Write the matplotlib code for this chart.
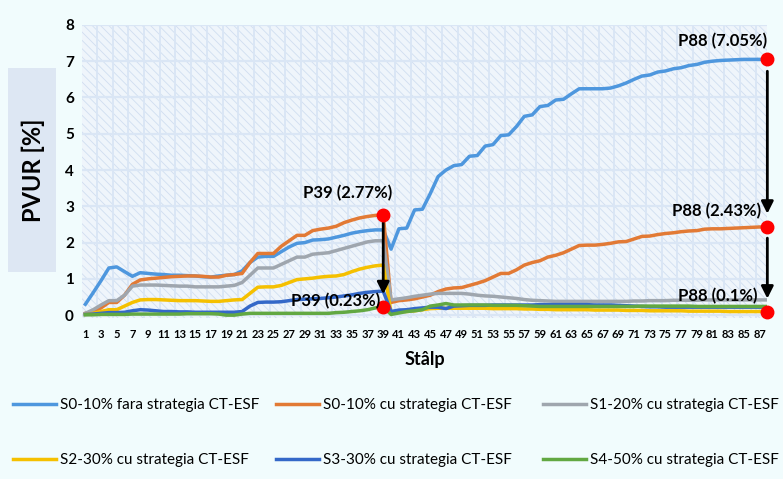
import matplotlib.pyplot as plt
from matplotlib.patches import Rectangle
import numpy as np

plt.rcParams['font.family'] = ['Lato', 'DejaVu Sans']
plt.rcParams['hatch.linewidth'] = 0.6

# Stâlp numbers 1..88
stalpi = np.arange(1, 89)

s0_fara = [0.30, 0.62, 0.95, 1.30, 1.33, 1.20, 1.07, 1.17, 1.15, 1.13,
           1.12, 1.10, 1.10, 1.09, 1.08, 1.06, 1.05, 1.08, 1.10, 1.12,
           1.22, 1.45, 1.60, 1.62, 1.62, 1.75, 1.88, 1.98, 2.00, 2.07,
           2.08, 2.10, 2.15, 2.20, 2.26, 2.30, 2.33, 2.35, 2.35, 1.82,
           2.38, 2.40, 2.90, 2.92, 3.35, 3.82, 4.00, 4.12, 4.15, 4.38,
           4.40, 4.66, 4.70, 4.95, 4.97, 5.20, 5.48, 5.52, 5.75, 5.78,
           5.93, 5.95, 6.10, 6.24, 6.24, 6.24, 6.24, 6.26, 6.32, 6.40,
           6.50, 6.59, 6.62, 6.70, 6.73, 6.79, 6.82, 6.88, 6.91, 6.97,
           7.00, 7.02, 7.03, 7.04, 7.05, 7.05, 7.05, 7.05]

s0_cu = [0.05, 0.10, 0.20, 0.35, 0.35, 0.55, 0.85, 0.97, 1.00, 1.02,
         1.04, 1.06, 1.07, 1.08, 1.08, 1.07, 1.05, 1.05, 1.10, 1.12,
         1.15, 1.45, 1.70, 1.70, 1.70, 1.90, 2.05, 2.20, 2.20, 2.33,
         2.37, 2.40, 2.45, 2.55, 2.62, 2.68, 2.72, 2.75, 2.77, 0.35,
         0.40, 0.42, 0.45, 0.50, 0.55, 0.65, 0.72, 0.75, 0.76, 0.82,
         0.88, 0.95, 1.05, 1.15, 1.15, 1.25, 1.38, 1.45, 1.50, 1.60,
         1.65, 1.72, 1.82, 1.92, 1.93, 1.93, 1.95, 1.98, 2.02, 2.03,
         2.10, 2.17, 2.18, 2.22, 2.25, 2.27, 2.30, 2.32, 2.33, 2.37,
         2.38, 2.38, 2.39, 2.40, 2.41, 2.42, 2.43, 2.43]

s1_cu = [0.05, 0.15, 0.28, 0.40, 0.40, 0.55, 0.80, 0.83, 0.83, 0.83,
         0.82, 0.81, 0.80, 0.80, 0.78, 0.78, 0.78, 0.78, 0.80, 0.82,
         0.90, 1.10, 1.30, 1.30, 1.30, 1.40, 1.50, 1.60, 1.60, 1.68,
         1.70, 1.72, 1.78, 1.84, 1.90, 1.96, 2.02, 2.05, 2.05, 0.42,
         0.45, 0.48, 0.52, 0.55, 0.58, 0.60, 0.60, 0.60, 0.60, 0.58,
         0.55, 0.53, 0.52, 0.50, 0.48, 0.46, 0.43, 0.41, 0.40, 0.39,
         0.38, 0.38, 0.38, 0.38, 0.38, 0.38, 0.38, 0.38, 0.38, 0.38,
         0.39, 0.39, 0.40, 0.40, 0.40, 0.41, 0.41, 0.41, 0.41, 0.42,
         0.42, 0.42, 0.42, 0.42, 0.42, 0.42, 0.42, 0.42]

s2_cu = [0.02, 0.05, 0.10, 0.15, 0.15, 0.25, 0.35, 0.42, 0.43, 0.43,
         0.42, 0.41, 0.40, 0.40, 0.40, 0.39, 0.38, 0.38, 0.40, 0.42,
         0.43, 0.60, 0.77, 0.78, 0.78, 0.82, 0.90, 0.98, 1.00, 1.02,
         1.05, 1.07, 1.08, 1.12, 1.20, 1.27, 1.32, 1.36, 1.38, 0.06,
         0.10, 0.10, 0.12, 0.15, 0.18, 0.19, 0.19, 0.19, 0.19, 0.19,
         0.19, 0.19, 0.18, 0.18, 0.18, 0.18, 0.17, 0.17, 0.16, 0.16,
         0.15, 0.15, 0.15, 0.15, 0.15, 0.14, 0.14, 0.14, 0.14, 0.13,
         0.13, 0.13, 0.12, 0.12, 0.12, 0.12, 0.12, 0.11, 0.11, 0.11,
         0.11, 0.11, 0.10, 0.10, 0.10, 0.10, 0.10, 0.10]

s3_cu = [0.02, 0.03, 0.05, 0.07, 0.07, 0.08, 0.12, 0.15, 0.14, 0.12,
         0.10, 0.10, 0.09, 0.09, 0.08, 0.08, 0.08, 0.08, 0.08, 0.08,
         0.10, 0.25, 0.35, 0.36, 0.36, 0.37, 0.40, 0.43, 0.44, 0.45,
         0.46, 0.48, 0.50, 0.53, 0.56, 0.60, 0.63, 0.65, 0.66, 0.10,
         0.14, 0.15, 0.18, 0.20, 0.22, 0.22, 0.18, 0.25, 0.26, 0.27,
         0.27, 0.27, 0.28, 0.28, 0.28, 0.28, 0.28, 0.28, 0.29, 0.29,
         0.29, 0.29, 0.29, 0.29, 0.29, 0.28, 0.28, 0.28, 0.27, 0.26,
         0.25, 0.24, 0.23, 0.23, 0.22, 0.22, 0.22, 0.22, 0.22, 0.22,
         0.22, 0.22, 0.22, 0.22, 0.22, 0.22, 0.22, 0.22]

s4_cu = [0.01, 0.01, 0.02, 0.02, 0.02, 0.02, 0.03, 0.03, 0.03, 0.03,
         0.03, 0.03, 0.03, 0.04, 0.04, 0.04, 0.04, 0.03, 0.00, 0.00,
         0.03, 0.05, 0.05, 0.05, 0.05, 0.05, 0.05, 0.05, 0.05, 0.05,
         0.05, 0.05, 0.07, 0.08, 0.10, 0.12, 0.15, 0.20, 0.23, 0.02,
         0.06, 0.10, 0.12, 0.15, 0.25, 0.28, 0.32, 0.28, 0.28, 0.28,
         0.28, 0.28, 0.27, 0.27, 0.27, 0.27, 0.26, 0.25, 0.24, 0.24,
         0.24, 0.24, 0.24, 0.24, 0.24, 0.24, 0.24, 0.24, 0.24, 0.24,
         0.24, 0.25, 0.25, 0.25, 0.25, 0.25, 0.25, 0.25, 0.24, 0.24,
         0.24, 0.24, 0.24, 0.24, 0.24, 0.24, 0.24, 0.24]

serii = [s0_fara, s0_cu, s1_cu, s2_cu, s3_cu, s4_cu]
etichete = ['S0-10% fara strategia CT-ESF', 'S0-10% cu strategia CT-ESF',
            'S1-20% cu strategia CT-ESF', 'S2-30% cu strategia CT-ESF',
            'S3-30% cu strategia CT-ESF', 'S4-50% cu strategia CT-ESF']
culori = ['#4E97DE', '#E27A35', '#9FA6AE', '#F5C000', '#3468C8', '#62A842']

# highlighted points: (stalp, value, label)
puncte = [(39, 2.77, 'P39 (2.77%)'), (39, 0.23, 'P39 (0.23%)'),
          (88, 7.05, 'P88 (7.05%)'), (88, 2.43, 'P88 (2.43%)'),
          (88, 0.1, 'P88 (0.1%)')]

W, H = 783, 479
fig = plt.figure(figsize=(W / 100, H / 100), dpi=100, facecolor='#F1FCFD')
ax = fig.add_axes([0.105, 0.336, 0.875, 0.612])
ax.set_facecolor('#EFF5FB')
ax.add_patch(Rectangle((0, 0), 1, 1, transform=ax.transAxes, facecolor='none',
                       edgecolor='#D0DEF0', hatch='\\\\\\\\', lw=0, zorder=0))

linii = []
for y, lab, col in zip(serii, etichete, culori):
    ln, = ax.plot(stalpi, y, color=col, lw=2.5, label=lab, zorder=3,
                  solid_joinstyle='round')
    linii.append(ln)

ax.set_xlim(0.6, 88.0)
ax.set_ylim(-0.08, 8)
ax.set_yticks(range(0, 9))
ax.set_xticks(stalpi[::2])
ax.set_xticklabels([str(s) for s in stalpi[::2]], fontsize=8, fontweight='bold')
ax.set_yticklabels([str(v) for v in range(0, 9)], fontsize=11, fontweight='bold')
ax.tick_params(length=0, pad=6)
ax.tick_params(axis='x', pad=8)
for sp in ax.spines.values():
    sp.set_visible(False)

# gridlines: each unit vertically, every second stalp horizontally
for v in range(0, 9):
    ax.axhline(v, color='#DAE6F5', lw=1.6, zorder=1)
for s in np.arange(0.5, 89, 2):
    ax.axvline(s, color='#DAE6F5', lw=1.4, zorder=1)

ax.set_xlabel('Stâlp', fontsize=13, fontweight='bold', labelpad=8)

# y label sitting in a shaded box
fig.patches.append(Rectangle((8 / W, 1 - 272 / H), 48 / W, 204 / H,
                             transform=fig.transFigure, facecolor='#DDE7F3',
                             edgecolor='none'))
fig.text(33 / W, 1 - 170 / H, 'PVUR [%]', rotation=90, fontsize=17,
         fontweight='bold', ha='center', va='center')

# arrows between the highlighted points
arrow = dict(arrowstyle='-|>', color='black', lw=2, mutation_scale=18)
ax.annotate('', xy=(39, 0.5), xytext=(39, 2.77), arrowprops=arrow, zorder=5)
ax.annotate('', xy=(88, 2.72), xytext=(88, 6.8), arrowprops=arrow, zorder=5)
ax.annotate('', xy=(88, 0.38), xytext=(88, 2.2), arrowprops=arrow, zorder=5)

for x, y, _ in puncte:
    ax.plot(x, y, 'o', color='#FF0000', ms=9, zorder=6, clip_on=False)

ax.text(34.5, 3.37, puncte[0][2], ha='center', va='center', fontsize=12,
        fontweight='bold', zorder=7)
ax.text(38.6, 0.38, puncte[1][2], ha='right', va='center', fontsize=12,
        fontweight='bold', zorder=7)
ax.text(88, 7.55, puncte[2][2], ha='right', va='center', fontsize=12,
        fontweight='bold', zorder=7)
ax.text(87.2, 2.86, puncte[3][2], ha='right', va='center', fontsize=12,
        fontweight='bold', zorder=7)
ax.text(86.8, 0.52, puncte[4][2], ha='right', va='center', fontsize=12,
        fontweight='bold', zorder=7)

# legend: three columns of two entries, one legend per column
coloane_x = [13, 276, 543]
for k, x0 in enumerate(coloane_x):
    idx = [k, k + 3]
    fig.legend([linii[i] for i in idx], [etichete[i] for i in idx],
               loc='upper left', bbox_to_anchor=(x0 / W, 1 - 398 / H),
               frameon=False, fontsize=11, handlelength=2.8,
               handletextpad=0.3, borderpad=0, borderaxespad=0,
               labelspacing=2.7)

fig.savefig('out.png', dpi=100, facecolor=fig.get_facecolor())
